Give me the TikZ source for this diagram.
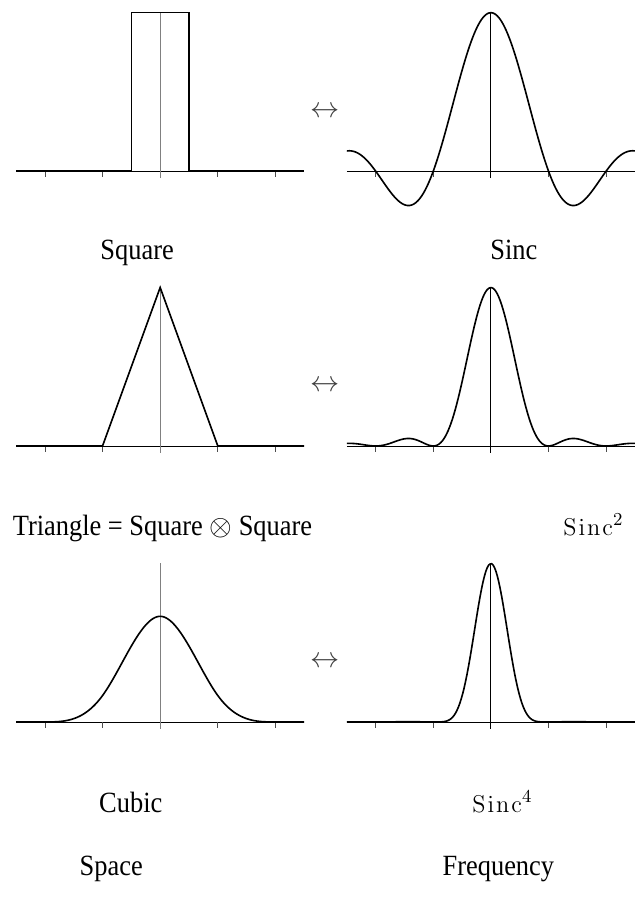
\documentclass[tikz,border=0pt]{standalone}
\usepackage[no-math]{fontspec}
\setmainfont{Liberation Serif}[FakeStretch=0.9]

\begin{document}
\begin{tikzpicture}[
    declare function={sincf(\t)=sin(180*\t)/(pi*\t);},
    axisline/.style={line width=0.4pt},
    curve/.style={line width=0.8pt},
    tickmark/.style={line width=0.4pt, black!70},
    midline/.style={line width=0.6pt, black!50},
    caption/.style={font=\fontsize{14.5}{17}\selectfont, anchor=base, inner sep=0pt},
    pairsign/.style={font=\fontsize{14}{16}\selectfont, text=black!75, inner sep=0pt}
]
    \useasboundingbox (0, 0) rectangle (11.08, -15.69);

    \draw[axisline] (0.28, -2.97) -- (5.28, -2.97);
    \draw[tickmark] (0.78, -2.97) -- ++(0, -0.1) (1.78, -2.97) -- ++(0, -0.1) (3.78, -2.97) -- ++(0, -0.1) (4.78, -2.97) -- ++(0, -0.1);
    \draw[midline] (2.78, -3.09) -- (2.78, -0.22);
    \draw[curve] (0.28, -2.97) -- (2.28, -2.97) -- (2.28, -0.22) -- (3.28, -0.22) -- (3.28, -2.97) -- (5.28, -2.97);

    \draw[axisline] (6.02, -2.97) -- (11.02, -2.97);
    \draw[tickmark] (6.52, -2.97) -- ++(0, -0.1) (7.52, -2.97) -- ++(0, -0.1) (9.52, -2.97) -- ++(0, -0.1) (10.52, -2.97) -- ++(0, -0.1);
    \draw[axisline] (8.52, -3.09) -- (8.52, -0.22);
    \draw[curve] plot[domain=-2.5:2.5, samples=200] ({8.52+\x}, {-2.97+2.75*sincf(\x)});

    \draw[axisline] (0.28, -7.74) -- (5.28, -7.74);
    \draw[tickmark] (0.78, -7.74) -- ++(0, -0.1) (1.78, -7.74) -- ++(0, -0.1) (3.78, -7.74) -- ++(0, -0.1) (4.78, -7.74) -- ++(0, -0.1);
    \draw[midline] (2.78, -7.86) -- (2.78, -4.99);
    \draw[curve] (0.28, -7.74) -- (1.78, -7.74) -- (2.78, -4.99) -- (3.78, -7.74) -- (5.28, -7.74);

    \draw[axisline] (6.02, -7.74) -- (11.02, -7.74);
    \draw[tickmark] (6.52, -7.74) -- ++(0, -0.1) (7.52, -7.74) -- ++(0, -0.1) (9.52, -7.74) -- ++(0, -0.1) (10.52, -7.74) -- ++(0, -0.1);
    \draw[axisline] (8.52, -7.86) -- (8.52, -4.99);
    \draw[curve] plot[domain=-2.5:2.5, samples=200] ({8.52+\x}, {-7.74+2.75*sincf(\x)*sincf(\x)});

    \draw[axisline] (0.28, -12.53) -- (5.28, -12.53);
    \draw[tickmark] (0.78, -12.53) -- ++(0, -0.1) (1.78, -12.53) -- ++(0, -0.1) (3.78, -12.53) -- ++(0, -0.1) (4.78, -12.53) -- ++(0, -0.1);
    \draw[midline] (2.78, -12.65) -- (2.78, -9.78);
    \draw[curve] plot[domain=-2.5:2.5, samples=161] ({2.78+\x}, {-12.53+2.75*(abs(\x) < 1 ? 2/3-\x*\x+abs(\x)*\x*\x/2 : (abs(\x) < 2 ? (2-abs(\x))*(2-abs(\x))*(2-abs(\x))/6 : 0))});

    \draw[axisline] (6.02, -12.53) -- (11.02, -12.53);
    \draw[tickmark] (6.52, -12.53) -- ++(0, -0.1) (7.52, -12.53) -- ++(0, -0.1) (9.52, -12.53) -- ++(0, -0.1) (10.52, -12.53) -- ++(0, -0.1);
    \draw[axisline] (8.52, -12.65) -- (8.52, -9.78);
    \draw[curve] plot[domain=-2.5:2.5, samples=200] ({8.52+\x}, {-12.53+2.75*sincf(\x)*sincf(\x)*sincf(\x)*sincf(\x)});

    \node[pairsign] (pairA) at (5.64, -1.94) {$\leftrightarrow$};
    \node[pairsign] (pairB) at (5.64, -6.71) {$\leftrightarrow$};
    \node[pairsign] (pairC) at (5.64, -11.50) {$\leftrightarrow$};

    \node[caption] (square) at (2.38, -4.50) {Square};
    \node[caption] (sinc) at (8.92, -4.50) {Sinc};
    \node[caption] (triangle) at (2.82, -9.29) {Triangle = Square $\otimes$ Square};
    \node[caption, font=\fontsize{13}{15}\selectfont] (sincsq) at (10.30, -9.29) {$\mathrm{S\mkern1.5mu i\mkern1.5mu n\mkern1.5mu c}^2$};
    \node[caption] (cubic) at (2.27, -14.10) {Cubic};
    \node[caption, font=\fontsize{13}{15}\selectfont] (sincfour) at (8.72, -14.10) {$\mathrm{S\mkern1.5mu i\mkern1.5mu n\mkern1.5mu c}^4$};
    \node[caption] (space) at (1.93, -15.20) {Space};
    \node[caption] (frequency) at (8.65, -15.20) {Frequency};
\end{tikzpicture}
\end{document}
